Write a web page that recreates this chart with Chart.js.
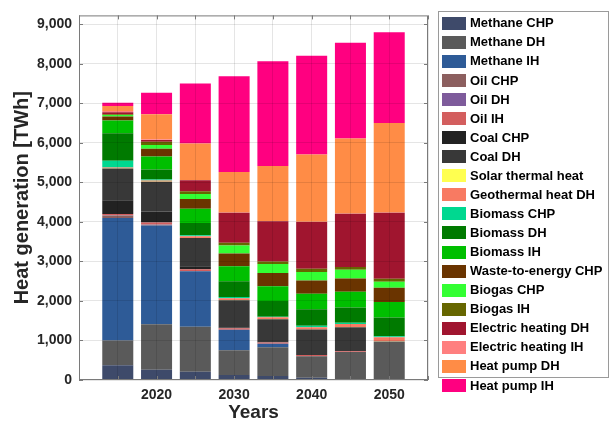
<!DOCTYPE html>
<html lang="en">

<head>
    <meta charset="utf-8" />
    <title>Heat generation</title>
    <script src="https://cdn.jsdelivr.net/npm/chart.js"></script>
    <style>
        html, body { margin: 0; padding: 0; background: #ffffff; }
        .grafico_container { width: 615px; height: 426px; }
    </style>
</head>

<body>
    <div class="grafico_container">
        <canvas id="grafico_calor"></canvas>
    </div>
</body>

</html>
<script>
    // Years with a bar, plus the empty years at both ends of the axis
    const years = [2015, 2020, 2025, 2030, 2035, 2040, 2045, 2050];
    const axisYears = [2010, ...years, 2055];
    const labelledYears = [2020, 2030, 2040, 2050];
    const yTicks = [0, 1000, 2000, 3000, 4000, 5000, 6000, 7000, 8000, 9000];

    // Heat generation per source [TWh], one value per year above
    const methaneChp   = [375, 260, 210, 125, 100, 60, 20, 10];
    const methaneDh    = [625, 1150, 1140, 625, 730, 540, 690, 965];
    const methaneIh    = [3100, 2500, 1400, 520, 85, 0, 0, 0];
    const oilChp       = [60, 20, 10, 0, 0, 0, 0, 0];
    const oilDh        = [10, 5, 0, 0, 0, 0, 0, 0];
    const oilIh        = [30, 50, 40, 40, 35, 30, 20, 0];
    const coalChp      = [350, 280, 80, 10, 5, 0, 0, 0];
    const coalDh       = [800, 750, 710, 700, 585, 645, 605, 0];
    const solarHeat    = [5, 5, 5, 5, 5, 5, 5, 5];
    const geothermalDh = [20, 25, 40, 45, 40, 55, 80, 100];
    const biomassChp   = [170, 30, 30, 30, 15, 40, 30, 25];
    const biomassDh    = [700, 250, 310, 400, 400, 415, 385, 475];
    const biomassIh    = [320, 333, 355, 375, 375, 390, 400, 395];
    const wasteChp     = [100, 190, 250, 325, 335, 335, 330, 360];
    const biogasChp    = [40, 100, 125, 200, 225, 215, 225, 150];
    const biogasIh     = [20, 83, 70, 75, 65, 85, 70, 75];
    const electricDh   = [50, 40, 280, 755, 1015, 1185, 1345, 1670];
    const electricIh   = [30, 20, 5, 5, 5, 5, 5, 5];
    const heatPumpDh   = [130, 630, 925, 1030, 1395, 1700, 1900, 2265];
    const heatPumpIh   = [80, 545, 1515, 2420, 2650, 2500, 2420, 2300];

    const yMax = 9225;

    const series = [
        ["Methane CHP", methaneChp, "#3e4a6a"],
        ["Methane DH", methaneDh, "#5a5a5a"],
        ["Methane IH", methaneIh, "#2e5b97"],
        ["Oil CHP", oilChp, "#8c5f5f"],
        ["Oil DH", oilDh, "#7e5b9b"],
        ["Oil IH", oilIh, "#d35e5e"],
        ["Coal CHP", coalChp, "#222222"],
        ["Coal DH", coalDh, "#383838"],
        ["Solar thermal heat", solarHeat, "#ffff50"],
        ["Geothermal heat DH", geothermalDh, "#f87a62"],
        ["Biomass CHP", biomassChp, "#00d890"],
        ["Biomass DH", biomassDh, "#007a00"],
        ["Biomass IH", biomassIh, "#00bf00"],
        ["Waste-to-energy CHP", wasteChp, "#6a3400"],
        ["Biogas CHP", biogasChp, "#33ff33"],
        ["Biogas IH", biogasIh, "#666600"],
        ["Electric heating DH", electricDh, "#a0152f"],
        ["Electric heating IH", electricIh, "#ff7f7f"],
        ["Heat pump DH", heatPumpDh, "#ff8c46"],
        ["Heat pump IH", heatPumpIh, "#ff0080"],
    ];

    const fonte = '"Liberation Sans", Arial, sans-serif';
    Chart.defaults.font.family = fonte;

    // Box around the plot with small inward ticks
    const moldura = {
        id: "moldura",
        afterDraw(chart) {
            const { ctx, chartArea: a, scales } = chart;
            ctx.save();
            ctx.strokeStyle = "#7a7a7a";
            ctx.lineWidth = 1;
            ctx.strokeRect(a.left + 0.5, a.top + 0.5, a.right - a.left - 1, a.bottom - a.top - 1);
            ctx.beginPath();
            axisYears.forEach((_, i) => {
                const x = Math.round(scales.x.getPixelForTick(i)) + 0.5;
                ctx.moveTo(x, a.top); ctx.lineTo(x, a.top + 4);
                ctx.moveTo(x, a.bottom); ctx.lineTo(x, a.bottom - 4);
            });
            yTicks.forEach((v) => {
                const y = Math.round(scales.y.getPixelForValue(v)) + 0.5;
                ctx.moveTo(a.left, y); ctx.lineTo(a.left + 4, y);
                ctx.moveTo(a.right, y); ctx.lineTo(a.right - 4, y);
            });
            ctx.stroke();
            ctx.restore();
        }
    };

    // Legend in a box on the right
    const legendaBox = {
        id: "legendaBox",
        afterDraw(chart) {
            const ctx = chart.ctx;
            ctx.save();
            ctx.strokeStyle = "#9a9a9a";
            ctx.lineWidth = 1;
            ctx.strokeRect(438.5, 11.5, 170, 366);
            ctx.font = "bold 13px " + fonte;
            ctx.textBaseline = "middle";
            chart.data.datasets.forEach((ds, i) => {
                const y = 23.3 + i * 19.06;
                ctx.fillStyle = ds.backgroundColor;
                ctx.fillRect(442, Math.round(y - 6.5), 24, 13);
                ctx.fillStyle = "#000000";
                ctx.fillText(ds.label, 470, y + 0.5);
            });
            ctx.restore();
        }
    };

    const ctxCalor = document.getElementById("grafico_calor").getContext("2d");
    new Chart(ctxCalor, {
        type: "bar",
        data: {
            labels: axisYears.map(String),
            datasets: series.map(([label, values, color]) => ({
                label: label,
                data: [null, ...values, null],
                backgroundColor: color,
                borderWidth: 0,
                barPercentage: 1,
                categoryPercentage: 0.8,
            })),
        },
        options: {
            responsive: true,
            maintainAspectRatio: false,
            animation: false,
            layout: { padding: { top: 11, right: 187, left: 0, bottom: 0 } },
            plugins: {
                legend: { display: false },
                tooltip: { enabled: false },
            },
            scales: {
                x: {
                    stacked: true,
                    offset: false,
                    grid: { offset: false, color: "rgba(0,0,0,0.1)", z: 1, drawTicks: false },
                    border: { display: false },
                    ticks: {
                        autoSkip: false,
                        maxRotation: 0,
                        padding: 7,
                        color: "#262626",
                        font: { size: 14, weight: "bold" },
                        callback: (value, index) => labelledYears.includes(axisYears[index]) ? String(axisYears[index]) : "",
                    },
                    title: {
                        display: true,
                        text: "Years",
                        color: "#262626",
                        font: { size: 19, weight: "bold" },
                        padding: { top: 0, bottom: 2 },
                    },
                    afterFit: (scale) => { scale.height = 46; },
                },
                y: {
                    stacked: true,
                    min: 0,
                    max: yMax,
                    grid: { color: "rgba(0,0,0,0.1)", z: 1, drawTicks: false },
                    border: { display: false },
                    afterBuildTicks: (scale) => { scale.ticks = yTicks.map((v) => ({ value: v })); },
                    ticks: {
                        padding: 7,
                        color: "#262626",
                        font: { size: 14, weight: "bold" },
                    },
                    title: {
                        display: true,
                        text: "Heat generation [TWh]",
                        color: "#262626",
                        font: { size: 20, weight: "bold" },
                        padding: { top: 10, bottom: 0 },
                    },
                    afterFit: (scale) => { scale.width = 79; },
                },
            },
        },
        plugins: [moldura, legendaBox],
    });
</script>
